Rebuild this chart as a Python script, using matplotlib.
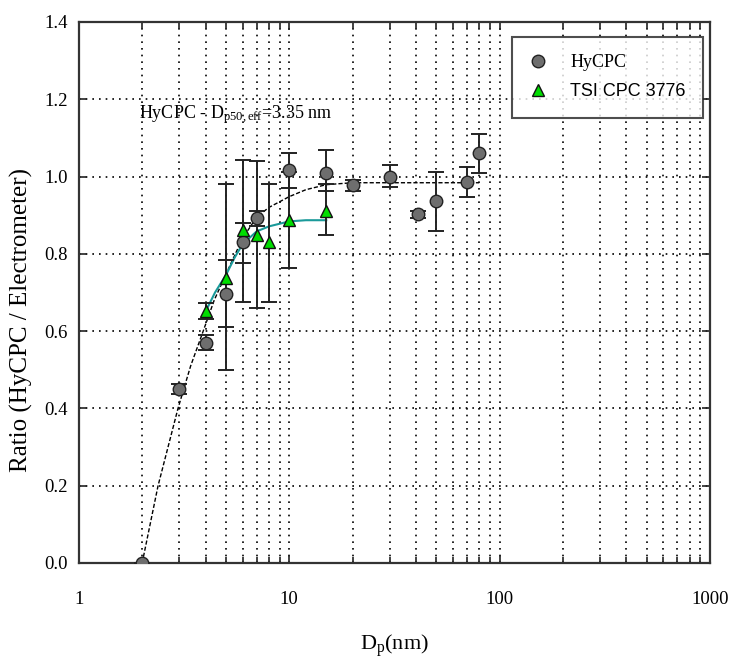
import numpy as np
import matplotlib
matplotlib.use("Agg")
import matplotlib.pyplot as plt
from matplotlib.lines import Line2D

plt.rcParams['font.family'] = ['Liberation Serif', 'DejaVu Serif']
plt.rcParams['mathtext.fontset'] = 'custom'
plt.rcParams['mathtext.rm'] = 'Liberation Serif'
plt.rcParams['mathtext.it'] = 'Liberation Serif:italic'

# HyCPC measured ratio
hy_dp = [2, 3, 4, 5, 6, 7, 10, 15, 20, 30, 41, 50, 70, 80]
hy_ratio = [0.0, 0.45, 0.57, 0.697, 0.83, 0.892, 1.018, 1.008, 0.977, 1.0, 0.902, 0.936, 0.987, 1.06]
hy_err_lo = [0.0, 0.012, 0.02, 0.086, 0.055, 0.02, 0.048, 0.045, 0.015, 0.026, 0.01, 0.076, 0.041, 0.052]
hy_err_hi = [0.0, 0.012, 0.02, 0.087, 0.05, 0.02, 0.042, 0.062, 0.015, 0.03, 0.01, 0.077, 0.039, 0.049]

# TSI CPC 3776 measured ratio
tsi_dp = [4, 5, 6, 7, 8, 10, 15]
tsi_ratio = [0.652, 0.737, 0.861, 0.85, 0.83, 0.887, 0.91]
tsi_err_lo = [0.02, 0.237, 0.186, 0.19, 0.155, 0.124, 0.06]
tsi_err_hi = [0.02, 0.243, 0.183, 0.19, 0.15, 0.124, 0.07]

# fitted curves
hy_fit_dp = [2, 2.38, 2.96, 3.4, 3.9, 4.4, 5, 6, 7, 8, 10, 12, 15, 20, 30, 50, 80]
hy_fit_ratio = [0.0, 0.2, 0.4, 0.51, 0.6, 0.68, 0.747, 0.84, 0.895, 0.92, 0.948, 0.966, 0.979, 0.984, 0.984, 0.984, 0.984]
tsi_fit_dp = [4, 4.44, 5, 5.5, 6, 7, 8, 10, 12, 15]
tsi_fit_ratio = [0.65, 0.70, 0.745, 0.79, 0.825, 0.858, 0.871, 0.884, 0.887, 0.887]

fig = plt.figure(figsize=(7.3, 6.58), dpi=100)
ax = fig.add_axes([0.108, 0.1444, 0.8646, 0.8222])

ax.plot(hy_fit_dp, hy_fit_ratio, color='black', lw=1.0, ls=(0, (3, 1.5)), zorder=3)
ax.plot(tsi_fit_dp, tsi_fit_ratio, color='#1a9a9a', lw=1.5, zorder=3)

ax.errorbar(hy_dp, hy_ratio, yerr=[hy_err_lo, hy_err_hi], fmt='none', ecolor='#222222',
            elinewidth=1.4, capsize=5.8, capthick=1.4, zorder=4)
ax.errorbar(tsi_dp, tsi_ratio, yerr=[tsi_err_lo, tsi_err_hi], fmt='none', ecolor='#222222',
            elinewidth=1.4, capsize=5.8, capthick=1.4, zorder=4)
ax.plot(hy_dp, hy_ratio, 'o', ms=9, mfc='#6e6e6e', mec='#222222', mew=1.0, ls='none', zorder=5)
ax.plot(tsi_dp, tsi_ratio, '^', ms=8, mfc='#00dd00', mec='#111111', mew=1.0, ls='none', zorder=6)

ax.set_xscale('log')
ax.set_xlim(1, 1000)
ax.set_ylim(0, 1.4)
ax.set_yticks(np.arange(0, 1.41, 0.2))
ax.set_yticklabels(['%.1f' % v for v in np.arange(0, 1.41, 0.2)])
ax.set_xticks([1, 10, 100, 1000])
ax.set_xticklabels(['1', '10', '100', '1000'])
ax.tick_params(axis='both', which='both', direction='in', top=True, right=True,
               labelsize=13.5, width=1.2, color='#222222')
ax.tick_params(axis='both', which='major', length=6, pad=8)
ax.tick_params(axis='x', which='minor', length=4)
ax.tick_params(axis='x', which='major', pad=20)
ax.minorticks_on()
ax.yaxis.set_minor_locator(matplotlib.ticker.NullLocator())

ax.grid(True, which='major', axis='both', color='black', ls=(0, (1, 3)), lw=1.2)
ax.grid(True, which='minor', axis='x', color='black', ls=(0, (1, 3)), lw=1.2)
ax.set_axisbelow(True)
for s in ax.spines.values():
    s.set_linewidth(1.6)
    s.set_color('#333333')

ax.set_ylabel('Ratio (HyCPC / Electrometer)', fontsize=18)
ax.yaxis.set_label_coords(-0.073, 0.45)
ax.set_xlabel('D$_\\mathrm{p}$(nm)', fontsize=16, labelpad=18)

ax.text(0.095, 0.828, 'HyCPC - D$_\\mathrm{p50,eff}$=3.35 nm', transform=ax.transAxes,
        fontsize=13, va='center', ha='left')

handles = [Line2D([], [], marker='o', ms=9, mfc='#6e6e6e', mec='#222222', ls='none'),
           Line2D([], [], marker='^', ms=8, mfc='#00dd00', mec='#111111', ls='none')]
leg = ax.legend(handles, ['HyCPC', 'TSI CPC 3776'], loc='upper right',
                bbox_to_anchor=(0.989, 0.972), fontsize=13, frameon=True, fancybox=False,
                borderpad=0.95, labelspacing=0.67, handlelength=1.0, handletextpad=1.3,
                borderaxespad=0)
leg.get_frame().set_edgecolor('#222222')
leg.get_frame().set_linewidth(1.5)
leg.get_texts()[1].set_family(['Liberation Sans', 'DejaVu Sans'])

fig.savefig('out.png', dpi=100, facecolor='white')
